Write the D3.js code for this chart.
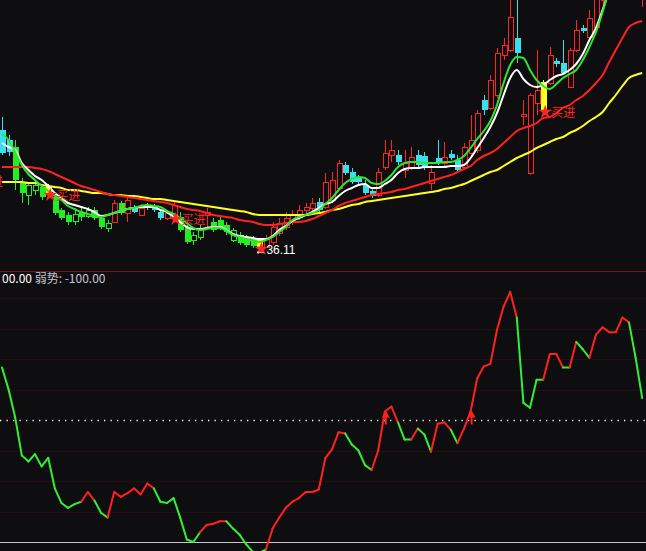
<!DOCTYPE html>
<html><head><meta charset="utf-8">
<script src="https://cdn.jsdelivr.net/npm/d3@7"></script>
<style>html,body{margin:0;padding:0;background:#0e0e10;overflow:hidden}</style>
</head><body>
<svg id="c" width="646" height="551"></svg>
<script>
// ---- data (prices) ----
const kinds = ["c","c","g","g","go","go","g","y","g","g","g","go","g","go","g","g","go","r","g","r",
"c","r","c","c","c","r","r","g","g","go","go","r","g","g","g","go","g","g","g","y",
"r","r","r","r","r","r","r","r","c","r","r","r","c","c","c","c","c","r","r","r",
"c","r","r","c","c","r","c","r","c","c","r","r","r","c","r","r","r","r","c","r",
"r","r","y","r","c","c","r","r","c","r","r","r","r","c","r","r","c","r"];
const open = [48.0,47.0,46.3,42.8,41.5,42.0,42.3,42.4,41.3,40.0, 39.5,38.9,39.8,39.4,40.0,39.2,38.2,38.8,40.7,39.7,
40.3,39.5,40.5,40.4,39.8,39.2,39.2,39.3,38.3,37.0, 37.3,39.5,38.8,39.0,38.5,37.0,37.5,37.3,37.2,37.0,
36.3,36.8,37.7,38.3,38.8,39.3,40.0,40.2,40.8,40.3, 41.0,42.2,44.5,43.8,43.2,42.5,41.9,41.5,44.3,45.5,
45.5,44.0,44.3,45.5,45.4,42.7,45.2,44.7,45.6,45.0, 44.3,45.7,46.0,51.0,50.2,51.5,55.5,56.0,57.2,49.4,
43.7,50.7,52.8,52.7,54.9,54.7,52.3,56.0,58.2,57.3, 58.3,61.0,63.5,68.0,67.5,69.5,71.0,64.0];
const high = [49.3,47.5,47.0,43.2,42.7,43.0,42.5,42.6,41.5,40.2, 39.8,40.0,40.2,40.3,40.3,39.5,39.0,41.0,40.9,41.2,
40.5,40.6,40.7,40.6,40.0,40.0,41.0,39.8,38.5,37.8, 38.5,40.2,39.2,39.3,38.8,38.2,37.8,37.5,37.4,37.2,
37.5,38.8,39.2,39.8,40.0,40.5,40.7,41.2,41.2,43.7, 43.8,45.0,44.8,44.2,43.5,43.0,42.2,44.2,47.0,47.0,
46.0,46.0,46.3,46.0,45.8,44.5,47.0,46.8,46.0,45.5, 46.7,49.5,50.0,51.5,53.5,56.2,57.2,62.0,62.0,51.0,
51.7,56.0,53.0,56.3,55.2,57.0,56.2,59.0,58.5,60.0, 62.0,65.0,68.0,69.0,71.0,73.0,72.0,68.0];
const low = [45.5,45.4,42.0,40.7,40.5,41.5,41.0,41.5,39.5,39.0, 38.5,38.5,38.9,39.2,39.0,38.1,37.8,38.8,39.5,38.8,
39.7,39.4,40.0,39.8,39.0,39.0,39.1,37.8,36.6,36.5, 37.0,38.0,37.8,38.0,37.5,36.8,36.5,36.3,36.2,36.11,
36.2,36.5,37.4,38.0,38.5,39.0,39.7,39.9,39.8,40.1, 40.7,42.0,43.5,42.6,42.5,41.5,41.2,41.3,44.0,44.8,
44.5,43.2,44.0,44.3,44.0,42.0,44.5,44.3,45.0,43.8, 44.0,45.4,45.7,49.5,50.0,51.2,55.0,55.8,54.7,48.5,
43.5,49.5,49.8,52.5,54.3,53.5,52.2,55.8,57.7,57.0, 58.0,60.5,63.0,66.0,67.0,69.0,68.0,60.3];
const close = [45.7,45.8,43.0,41.7,42.5,42.5,41.3,41.7,39.7,39.2, 38.8,39.6,39.3,40.0,39.2,38.3,38.7,40.7,39.7,41.0,
39.8,40.2,40.2,40.0,39.2,39.7,40.5,38.0,36.8,37.5, 38.2,39.8,38.0,38.2,37.8,38.0,36.7,36.5,36.4,36.3,
37.2,38.3,38.7,39.2,39.5,40.0,40.3,40.7,40.0,42.8, 43.0,44.7,43.7,42.8,42.8,41.7,41.4,43.8,45.7,46.0,
44.8,44.7,45.3,44.5,44.2,43.8,44.8,45.3,45.2,44.0, 46.3,47.0,49.7,50.0,53.0,55.7,56.5,59.3,55.7,49.6,
51.5,52.0,50.0,55.5,54.6,53.7,56.0,58.0,57.9,59.2, 61.5,64.0,67.0,67.0,70.0,72.0,69.5,67.0];
const maWhite = [46.7,46.3,46.0,44.7,44.0,43.4,43.0,42.4,41.7,41.2, 40.7,40.5,40.3,40.1,39.8,39.4,39.5,39.7,39.9,40.1,
40.2,40.3,40.3,40.3,40.0,39.8,39.3,38.8,38.3,38.1, 38.1,38.2,38.3,38.3,38.0,37.6,37.4,37.3,37.2,37.1,
37.1,37.4,38.0,38.4,38.9,39.2,39.5,39.8,40.2,40.6, 40.8,41.4,41.9,42.2,42.5,42.6,42.2,42.2,42.6,43.0,
43.7,44.1,44.2,44.2,44.3,44.3,44.3,44.3,44.4,44.4, 44.5,45.2,46.2,47.2,48.3,49.7,51.5,53.2,54.0,53.1,
52.5,52.3,52.5,53.0,53.4,53.6,54.0,54.6,55.6,57.0, 58.2,60.0,62.0,64.0,66.0,68.0,70.0,71.0];
const maGreen = [47.6,47.0,45.8,44.5,43.6,43.0,42.4,41.9,41.4,41.0, 40.4,40.1,39.8,39.6,39.4,39.3,39.5,39.7,39.9,40.1,
40.2,40.4,40.5,40.4,40.3,39.9,39.6,39.2,38.7,38.2, 38.0,38.1,38.2,38.2,37.9,37.5,37.3,37.1,36.9,36.8,
37.0,37.3,37.8,38.3,39.0,39.3,39.5,39.7,40.0,40.6, 41.2,42.0,42.7,43.1,43.3,43.2,42.7,42.6,42.9,43.5,
44.3,44.7,44.8,44.8,44.7,44.7,44.7,44.8,44.8,45.0, 45.4,46.2,47.1,47.9,48.9,50.5,52.7,54.5,55.3,55.2,
54.0,53.0,52.4,52.1,52.6,53.2,53.6,54.0,55.0,56.3, 57.8,59.8,62.0,64.0,66.0,68.0,70.0,71.0];
const maRed = [44.3,44.3,44.3,44.3,44.3,44.2,44.1,43.9,43.6,43.3, 43.0,42.7,42.4,42.2,42.0,41.8,41.6,41.5,41.4,41.3,
41.2,41.1,41.0,40.9,40.8,40.7,40.5,40.3,40.1,40.0, 39.9,39.7,39.5,39.4,39.3,39.2,39.0,38.9,38.8,38.6,
38.5,38.5,38.6,38.7,38.8,38.8,38.9,39.1,39.4,39.7, 40.0,40.4,40.7,40.9,41.1,41.3,41.5,41.6,41.7,41.8,
42.0,42.1,42.3,42.5,42.7,42.9,43.1,43.3,43.5,43.8, 44.1,44.4,45.0,45.4,45.7,46.1,46.7,47.3,47.9,48.2,
48.4,48.7,49.2,49.3,49.7,50.2,50.5,51.0,51.4,52.0, 52.7,53.5,54.8,56.0,57.2,58.3,58.7,58.9];
const maYellow = [42.8,42.8,42.8,42.8,42.7,42.7,42.5,42.4,42.3,42.2, 42.0,42.0,41.9,41.8,41.7,41.7,41.6,41.5,41.5,41.4,
41.4,41.3,41.2,41.1,41.1,41.0,40.9,40.8,40.7,40.6, 40.5,40.4,40.3,40.2,40.1,40.0,39.9,39.8,39.6,39.5,
39.5,39.5,39.5,39.5,39.5,39.5,39.5,39.6,39.7,39.8, 40.0,40.1,40.3,40.5,40.6,40.8,40.9,41.0,41.1,41.2,
41.3,41.4,41.5,41.6,41.7,41.8,41.9,42.1,42.2,42.4, 42.6,42.9,43.2,43.5,43.8,44.0,44.4,44.8,45.2,45.5,
45.8,46.2,46.5,46.8,47.1,47.3,47.7,48.0,48.4,48.9, 49.3,49.8,50.7,51.5,52.4,53.2,53.5,53.7];
// indicator (强势 100 / 弱势 -100)
const ind = [43,25,2,-29,-34,-28,-38,-31,-56,-68, -72,-69,-67,-59,-66,-76,-80,-59,-63,-60,
-56,-61,-52,-56,-67,-68,-64,-80,-98,-100, -92,-86,-85,-83,-83,-89,-94,-102,-108,-109,
-106,-89,-80,-72,-67,-64,-59,-59,-57,-31, -24,-10,-11,-20,-25,-37,-41,-25,7,11,
-2,-16,-16,-7,-12,-26,-3,-2,-8,-19, -7,7,34,44,46,74,93,105,84,14,
10,33,33,54,54,43,43,64,58,51, 70,76,72,72,84,80,51,18];
// colour state of the segment that ends at each bar: r = red, g = green
const indState = ["g","g","g","g","g","g","g","g","g","g","g","g","g","r","r","g","g","r","r","r",
"r","r","r","r","g","g","g","g","g","g","g","r","r","r","r","g","g","g","g","g",
"g","r","r","r","r","r","r","r","r","r","r","r","r","g","g","g","g","r","r","r",
"r","g","g","r","g","g","r","r","r","g","r","r","r","r","r","r","r","r","r","g",
"g","g","g","r","r","r","g","r","g","g","r","r","r","r","r","r","g","g"];
const upArrows = [58, 71];
const buySignals = [7, 26, 82];
const lowStar = 39;
const lowLabel = "36.11";
const lowIndex = 39;
const gridVals = [100, 75, 50, 25, -25, -50, -75];
const legendLeft = "00.00";
const legendRight = " 弱势: -100.00";

// ---- drawing ----
const W = 646, H = 551, N = open.length;
const BG = "#0e0e10", RED = "#ff2424", GRN = "#22ee22", CYAN = "#38e0ec", YEL = "#ffff22";
const svg = d3.select("#c");
svg.append("rect").attr("width", W).attr("height", H).attr("fill", BG);
const defs = svg.append("defs");
defs.append("clipPath").attr("id", "clipTop").append("rect").attr("x", 0).attr("y", 0).attr("width", W).attr("height", 270);
defs.append("clipPath").attr("id", "clipBot").append("rect").attr("x", 0).attr("y", 272).attr("width", W).attr("height", H - 272);

const x = d3.scaleLinear().domain([0, N - 1]).range([2, 2 + 6.6 * (N - 1)]);
const yP = d3.scaleLinear().domain([34, 61]).range([270, 0]);
const yI = d3.scaleLinear().domain([-100, 100]).range([542, 298]);

const gTop = svg.append("g").attr("clip-path", "url(#clipTop)");
const colorOf = k => k === "r" ? RED : (k === "g" || k === "go") ? GRN : k === "c" ? CYAN : YEL;

const candles = gTop.append("g");
d3.range(N).forEach(i => {
  const k = kinds[i], cx = Math.round(x(i)), col = colorOf(k);
  const t = yP(Math.max(open[i], close[i])), b = yP(Math.min(open[i], close[i]));
  candles.append("line").attr("x1", cx + 0.5).attr("x2", cx + 0.5)
    .attr("y1", yP(high[i])).attr("y2", yP(low[i])).attr("stroke", col).attr("stroke-width", 1);
  if (k === "r" || k === "go") {
    candles.append("rect").attr("x", cx - 2 + 0.5).attr("y", Math.round(t) + 0.5)
      .attr("width", 5).attr("height", Math.max(1, Math.round(b - t)))
      .attr("fill", BG).attr("stroke", col).attr("stroke-width", 1);
  } else {
    candles.append("rect").attr("x", cx - 2).attr("y", t)
      .attr("width", 6).attr("height", Math.max(1.5, b - t)).attr("fill", col);
  }
});

const maLine = arr => d3.line().x((d, i) => x(i)).y(d => yP(d)).curve(d3.curveMonotoneX)(arr);
[[maYellow, YEL], [maRed, "#ff2020"], [maWhite, "#ffffff"], [maGreen, "#2ee62e"]].forEach(([a, c]) => {
  gTop.append("path").attr("d", maLine(a)).attr("fill", "none").attr("stroke", c).attr("stroke-width", 2);
});

// buy markers
const star = d3.symbol().type(d3.symbolStar).size(60);
buySignals.forEach(i => {
  const sx = x(i) + 2, sy = yP(low[i]);
  gTop.append("path").attr("d", star()).attr("transform", `translate(${sx},${sy})`).attr("fill", RED);
  gTop.append("text").attr("x", sx + 6).attr("y", sy + 5).attr("fill", RED)
    .attr("font-family", "Noto Sans CJK SC").attr("font-size", 12).text("买进");
});
gTop.append("path").attr("d", star()).attr("transform", `translate(${x(lowStar) + 2},${yP(low[lowStar])})`).attr("fill", RED);
gTop.append("text").attr("x", 3).attr("y", 186).attr("text-anchor", "end").attr("fill", RED)
  .attr("font-family", "Noto Sans CJK SC").attr("font-size", 12).text("买进");

// low label
gTop.append("text").attr("x", x(lowIndex) - 5).attr("y", yP(low[lowIndex]) + 5)
  .attr("fill", "#ffffff").attr("font-family", "Liberation Sans, Arial").attr("font-size", 12)
  .text("←" + lowLabel);

// separator
svg.append("line").attr("x1", 0).attr("x2", W).attr("y1", 271.5).attr("y2", 271.5).attr("stroke", "#7a1414");

// lower panel
const gBot = svg.append("g").attr("clip-path", "url(#clipBot)");
gridVals.forEach(v => {
  gBot.append("line").attr("x1", 0).attr("x2", W).attr("y1", Math.round(yI(v)) + 0.5).attr("y2", Math.round(yI(v)) + 0.5)
    .attr("stroke", "#241012").attr("stroke-width", 1);
});
gBot.append("line").attr("x1", 0).attr("x2", W).attr("y1", yI(0) + 0.5).attr("y2", yI(0) + 0.5)
  .attr("stroke", "#ffffff").attr("stroke-width", 1.3).attr("stroke-dasharray", "1.3,5.2");
gBot.append("line").attr("x1", 0).attr("x2", W).attr("y1", yI(-100) + 0.5).attr("y2", yI(-100) + 0.5)
  .attr("stroke", "#c8c8c8").attr("stroke-width", 1);

for (let i = 1; i < N; i++) {
  gBot.append("line").attr("x1", x(i - 1)).attr("y1", yI(ind[i - 1])).attr("x2", x(i)).attr("y2", yI(ind[i]))
    .attr("stroke", indState[i] === "r" ? "#ff2020" : "#33ee33").attr("stroke-width", 2).attr("stroke-linecap", "round");
}
upArrows.forEach(i => {
  const ax = x(i) + 1, ay = yI(ind[i]);
  gBot.append("line").attr("x1", ax).attr("x2", ax).attr("y1", ay + 3).attr("y2", ay + 13).attr("stroke", "#ff2020").attr("stroke-width", 2);
  gBot.append("path").attr("d", `M${ax},${ay - 1} L${ax - 4},${ay + 6} L${ax + 4},${ay + 6} Z`).attr("fill", "#ff2020");
});

const lg = svg.append("text").attr("x", 2).attr("y", 283).attr("font-family", "Noto Sans CJK SC").attr("font-size", 12);
lg.append("tspan").attr("fill", "#ffffff").text(legendLeft);
lg.append("tspan").attr("fill", "#c4c4d4").text(legendRight);
</script>
</body></html>
